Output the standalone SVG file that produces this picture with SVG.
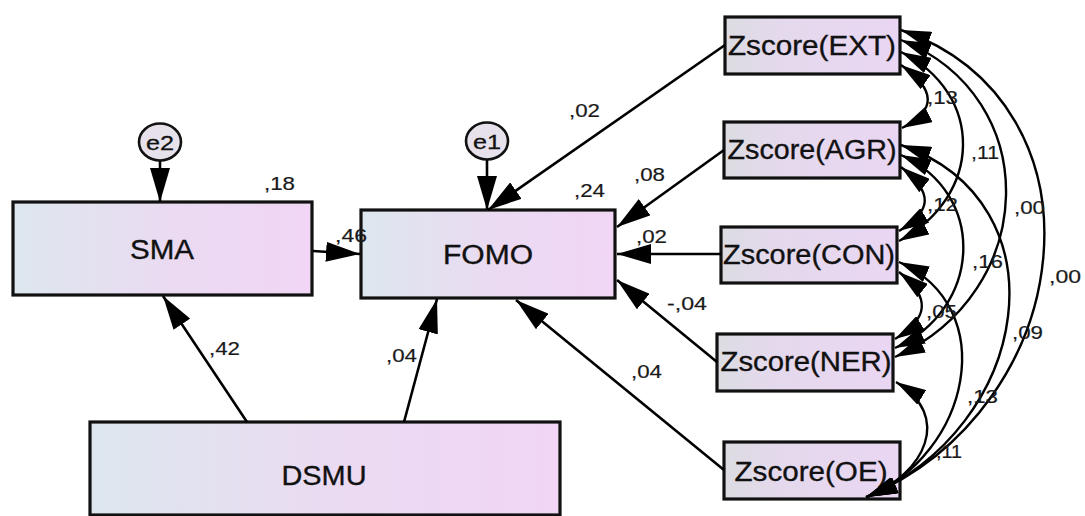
<svg xmlns="http://www.w3.org/2000/svg" width="1085" height="516" viewBox="0 0 1085 516">
<defs>
<linearGradient id="gBig" x1="0" y1="0" x2="1" y2="0">
<stop offset="0" stop-color="#dde7ee"/>
<stop offset="0.55" stop-color="#ebdaf2"/>
<stop offset="1" stop-color="#f1d6f5"/>
</linearGradient>
<linearGradient id="gZ" x1="0" y1="0" x2="1" y2="0">
<stop offset="0" stop-color="#dcdce2"/>
<stop offset="0.3" stop-color="#e4d9ec"/>
<stop offset="1" stop-color="#ead6f3"/>
</linearGradient>
<marker id="ah" markerUnits="userSpaceOnUse" markerWidth="34" markerHeight="20" viewBox="0 0 34 20" refX="34" refY="10" orient="auto">
<path d="M0,0 L34,10 L0,20 z" fill="#000"/>
</marker>
<marker id="ac" markerUnits="userSpaceOnUse" markerWidth="30" markerHeight="17" viewBox="0 0 30 17" refX="30" refY="8.5" orient="auto-start-reverse">
<path d="M0,0 L30,8.5 L0,17 z" fill="#000"/>
</marker>
</defs>
<style>
.box{stroke:#111;stroke-width:3.2}
.big{fill:url(#gBig)}
.z{fill:url(#gZ)}
.err{fill:#e6e1eb;stroke:#111;stroke-width:2.6}
.nt{font-family:"Liberation Sans",Arial,sans-serif;font-size:27px;fill:#111;stroke:#111;stroke-width:0.35;text-anchor:middle}
.et{font-family:"Liberation Sans",Arial,sans-serif;font-size:21px;fill:#111;stroke:#111;stroke-width:0.3;text-anchor:middle}
.lb{font-family:"Liberation Sans",Arial,sans-serif;font-size:19px;fill:#1a1a1a;stroke:#1a1a1a;stroke-width:0.2}
.ln{fill:none;stroke:#000;stroke-width:2.6;marker-end:url(#ah)}
.cv{fill:none;stroke:#000;stroke-width:2.4;marker-start:url(#ac);marker-end:url(#ac)}
</style>
<rect width="1085" height="516" fill="#ffffff"/>

<g id="e2"><ellipse class="err" cx="160" cy="142" rx="21" ry="18.5"/><text class="et" x="160" y="149.5" textLength="28" lengthAdjust="spacingAndGlyphs">e2</text></g>
<g id="e1"><ellipse class="err" cx="487" cy="141" rx="21" ry="18.5"/><text class="et" x="487" y="148.5" textLength="28" lengthAdjust="spacingAndGlyphs">e1</text></g>

<g id="SMA"><rect class="box big" x="13" y="202" width="299" height="93"/><text class="nt" x="162" y="259" textLength="64" lengthAdjust="spacingAndGlyphs">SMA</text></g>
<g id="FOMO"><rect class="box big" x="361" y="210" width="254" height="88"/><text class="nt" x="488" y="264" textLength="90" lengthAdjust="spacingAndGlyphs">FOMO</text></g>
<g id="DSMU"><rect class="box big" x="90" y="422" width="470" height="93"/><text class="nt" x="324" y="485" textLength="85" lengthAdjust="spacingAndGlyphs">DSMU</text></g>

<g id="ZEXT"><rect class="box z" x="725" y="17" width="175" height="57"/><text class="nt" x="812" y="55" textLength="168" lengthAdjust="spacingAndGlyphs">Zscore(EXT)</text></g>
<g id="ZAGR"><rect class="box z" x="724" y="122" width="176" height="56"/><text class="nt" x="812" y="159" textLength="169" lengthAdjust="spacingAndGlyphs">Zscore(AGR)</text></g>
<g id="ZCON"><rect class="box z" x="721" y="227" width="176" height="56"/><text class="nt" x="809" y="264" textLength="172" lengthAdjust="spacingAndGlyphs">Zscore(CON)</text></g>
<g id="ZNER"><rect class="box z" x="717" y="334" width="176" height="57"/><text class="nt" x="806" y="371" textLength="171" lengthAdjust="spacingAndGlyphs">Zscore(NER)</text></g>
<g id="ZOE"><rect class="box z" x="724" y="442" width="176" height="57"/><text class="nt" x="811" y="481" textLength="153" lengthAdjust="spacingAndGlyphs">Zscore(OE)</text></g>

<g id="connectors">
<path class="ln" d="M160,161 L160,202"/>
<path class="ln" d="M487,160 L487,210"/>
<path class="ln" d="M313,251 L360,254"/>
<path class="ln" d="M247,422 L163,296"/>
<path class="ln" d="M404,422 L437,299"/>
<path class="ln" d="M725,45 L488,210"/>
<path class="ln" d="M724,150 L617,227"/>
<path class="ln" d="M721,254 L617,254"/>
<path class="ln" d="M717,362 L617,280"/>
<path class="ln" d="M724,470 L516,300"/>

<path class="cv" d="M901,65 C936,89.5 937,110.5 902,128"/>
<path class="cv" d="M901,52 C985,94 983,196 899,241"/>
<path class="cv" d="M901,40 C1045,97.6 1039,292 895,357"/>
<path class="cv" d="M901,30 C1114,104.5 1079,407.5 866,497"/>
<path class="cv" d="M901,167 C934,193 932,211 899,231"/>
<path class="cv" d="M901,155 C988,194 982,309 895,348"/>
<path class="cv" d="M901,145 C1067,203 1032,427 866,497"/>
<path class="cv" d="M899,272 C932,298 928,319 895,339"/>
<path class="cv" d="M899,262 C1002,308 970,454 867,497"/>
<path class="cv" d="M896,382 C953,416 925,473 868,497"/>
</g>

<g id="labels">
<text class="lb" x="264" y="190" textLength="31" lengthAdjust="spacingAndGlyphs">,18</text>
<text class="lb" x="574" y="197" textLength="31" lengthAdjust="spacingAndGlyphs">,24</text>
<text class="lb" x="335" y="242" textLength="32" lengthAdjust="spacingAndGlyphs">,46</text>
<text class="lb" x="569" y="117" textLength="31" lengthAdjust="spacingAndGlyphs">,02</text>
<text class="lb" x="634" y="181" textLength="31" lengthAdjust="spacingAndGlyphs">,08</text>
<text class="lb" x="636" y="243" textLength="31" lengthAdjust="spacingAndGlyphs">,02</text>
<text class="lb" x="667" y="310" textLength="40" lengthAdjust="spacingAndGlyphs">-,04</text>
<text class="lb" x="209" y="355" textLength="31" lengthAdjust="spacingAndGlyphs">,42</text>
<text class="lb" x="386" y="362" textLength="31" lengthAdjust="spacingAndGlyphs">,04</text>
<text class="lb" x="631" y="378" textLength="31" lengthAdjust="spacingAndGlyphs">,04</text>
<text class="lb" x="927" y="104" textLength="31" lengthAdjust="spacingAndGlyphs">,13</text>
<text class="lb" x="971" y="159" textLength="28" lengthAdjust="spacingAndGlyphs">,11</text>
<text class="lb" x="927" y="211" textLength="31" lengthAdjust="spacingAndGlyphs">,12</text>
<text class="lb" x="1014" y="214" textLength="31" lengthAdjust="spacingAndGlyphs">,00</text>
<text class="lb" x="972" y="268" textLength="31" lengthAdjust="spacingAndGlyphs">,16</text>
<text class="lb" x="1049" y="283" textLength="32" lengthAdjust="spacingAndGlyphs">,00</text>
<text class="lb" x="926" y="318" textLength="31" lengthAdjust="spacingAndGlyphs">,05</text>
<text class="lb" x="1012" y="339" textLength="31" lengthAdjust="spacingAndGlyphs">,09</text>
<text class="lb" x="967" y="403" textLength="31" lengthAdjust="spacingAndGlyphs">,13</text>
<text class="lb" x="936" y="458" textLength="26" lengthAdjust="spacingAndGlyphs">,11</text>
</g>
</svg>
